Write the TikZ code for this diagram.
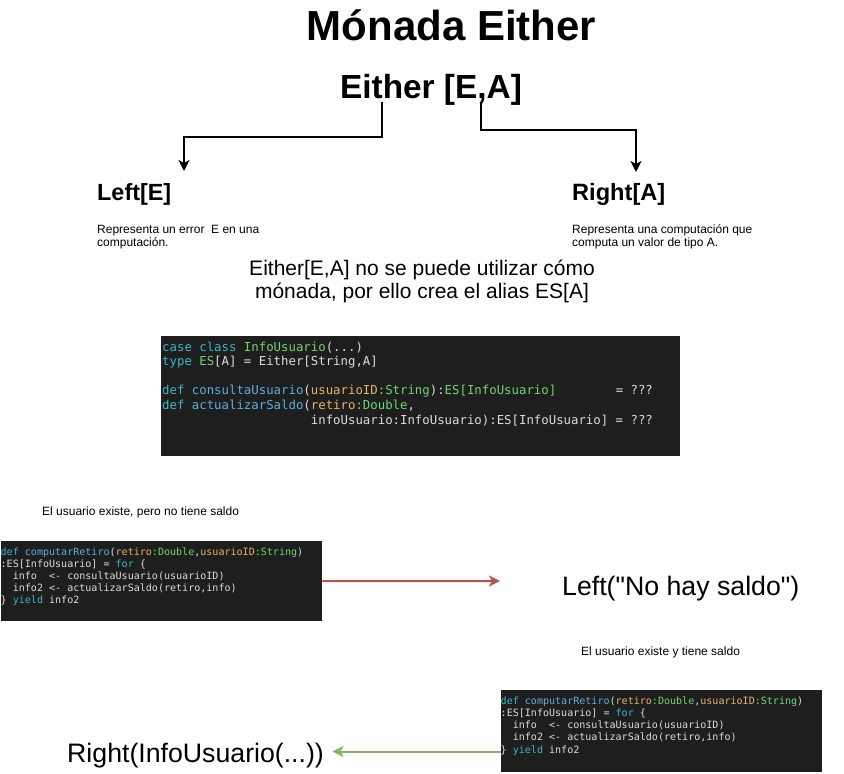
\documentclass[tikz,border=0pt]{standalone}
\usepackage{fontspec}
\setmainfont{Liberation Sans}
\setmonofont{DejaVu Sans Mono}
\newfontfamily\rawsans{Liberation Sans}[Ligatures=TeXOff]
\usetikzlibrary{arrows.meta}
\definecolor{cbg}{HTML}{1E1E1E}
\definecolor{ckwc}{HTML}{3AB8C6}
\definecolor{cfnc}{HTML}{5CAEE0}
\definecolor{cgrc}{HTML}{72D572}
\definecolor{cpac}{HTML}{E5B567}
\definecolor{cplc}{HTML}{DCDCDC}
\definecolor{redarrc}{HTML}{B85450}
\definecolor{greenarrc}{HTML}{82B366}
\newcommand\ckw[1]{\textcolor{ckwc}{#1}}
\newcommand\cfn[1]{\textcolor{cfnc}{#1}}
\newcommand\cgr[1]{\textcolor{cgrc}{#1}}
\newcommand\cpa[1]{\textcolor{cpac}{#1}}
\newcommand\cpl[1]{\textcolor{cplc}{#1}}
\newcommand\cind[1]{\hspace*{#1\fontcharwd\font`M}}
\begin{document}
\begin{tikzpicture}[x=1pt,y=-1pt,
  lbl/.style={inner sep=0pt, anchor=base west},
  lblc/.style={inner sep=0pt, anchor=base},
  arr/.style={draw=black, line width=2pt, -{Stealth[length=11pt,width=11pt,inset=3pt]}},
  redarr/.style={draw=redarrc, line width=2pt, -{Stealth[length=11pt,width=11pt,inset=3pt]}},
  greenarr/.style={draw=greenarrc, line width=2pt, -{Stealth[length=11pt,width=11pt,inset=3pt]}},
  codebox/.style={fill=cbg, draw=none, inner sep=0pt, anchor=north west},
  codeA/.style={inner sep=0pt, anchor=base west, text=cplc, font=\fontsize{12.35}{14.6}\selectfont\ttfamily},
  codeB/.style={inner sep=0pt, anchor=base west, text=cplc, font=\fontsize{10.05}{12.1}\selectfont\ttfamily},
  small/.style={inner sep=0pt, anchor=base west, font=\fontsize{12}{13}\selectfont}
]
\fill[white] (0,0) rectangle (844,774);
\useasboundingbox (0,0) rectangle (844,774);

% titles
\node[lblc, font=\fontsize{42}{48}\selectfont\bfseries] (title) at (451.5,40) {Mónada Either};
\node[lblc, font=\fontsize{33.4}{38}\selectfont\bfseries] (either) at (431,98) {Either [E,A]};

% Left / Right
\node[lbl, font=\fontsize{23.4}{28}\selectfont\bfseries] (left) at (97,200) {Left[E]};
\node[lbl, font=\fontsize{23.6}{28}\selectfont\bfseries] (right) at (572,200) {Right[A]};
\node[small] (leftdesc) at (97,233) {\parbox[t]{200pt}{\raggedright Representa un error\ \ E en una\\computación.}};
\node[small] (rightdesc) at (572,233) {\parbox[t]{220pt}{\raggedright Representa una computación que\\computa un valor de tipo A.}};

% connectors from Either
\coordinate (eL) at (382,102);
\coordinate (eR) at (481,102);
\coordinate (lt) at (184,171);
\coordinate (rt) at (636,172);
\draw[arr] (eL) -- ++(0,35) -| (lt);
\draw[arr] (eR) -- ++(0,28) -| (rt);

% middle text
\node[lblc, font=\fontsize{21}{23}\selectfont] (note) at (422,275) {\parbox[t]{420pt}{\centering Either[E,A] no se puede utilizar cómo\\mónada, por ello crea el alias ES[A]}};

% code block 1
\node[codebox, minimum width=519pt, minimum height=120pt] (cb1) at (161,336) {};
\node[codeA] (a1) at (162,351) {\ckw{case class} \cgr{InfoUsuario}(...)};
\node[codeA] (a2) at (162,365.5) {\ckw{type} \cgr{ES}[A] = Either[String,A]};
\node[codeA] (a4) at (162,394.5) {\ckw{def} \cfn{consultaUsuario}(\cpa{usuarioID}\cgr{:String}):\cgr{ES[InfoUsuario]}\cind{8}= ???};
\node[codeA] (a5) at (162,409) {\ckw{def} \cfn{actualizarSaldo}(\cpa{retiro}\cgr{:Double},};
\node[codeA] (a6) at (162,424) {\cind{20}infoUsuario:InfoUsuario):ES[InfoUsuario] = ???};

% case 1
\node[small] (case1) at (42,515) {El usuario existe, pero no tiene saldo};
\node[codebox, minimum width=321pt, minimum height=80pt] (cb2) at (1,541) {};
\node[codeB] (b1) at (0.5,555) {\ckw{def} \cfn{computarRetiro}(\cpa{retiro}\cgr{:Double},\cpa{usuarioID}\cgr{:String})};
\node[codeB] (b2) at (0.5,567.1) {:ES[InfoUsuario] = \ckw{for} \{};
\node[codeB] (b3) at (0.5,579.2) {\cind{2}info\cind{2}<- consultaUsuario(usuarioID)};
\node[codeB] (b4) at (0.5,591.3) {\cind{2}info2 <- actualizarSaldo(retiro,info)};
\node[codeB] (b5) at (0.5,603.4) {\} \ckw{yield} info2};
\node[lbl, font=\fontsize{26.7}{30}\selectfont\rawsans] (leftres) at (562,595) {Left("No hay saldo")};
\coordinate (redend) at (500,581);
\draw[redarr] (cb2.east) -- (redend);

% case 2
\node[small] (case2) at (581,655) {El usuario existe y tiene saldo};
\node[codebox, minimum width=321pt, minimum height=82pt] (cb3) at (501,690) {};
\node[codeB] (c1) at (500.5,704.6) {\ckw{def} \cfn{computarRetiro}(\cpa{retiro}\cgr{:Double},\cpa{usuarioID}\cgr{:String})};
\node[codeB] (c2) at (500.5,716.7) {:ES[InfoUsuario] = \ckw{for} \{};
\node[codeB] (c3) at (500.5,728.8) {\cind{2}info\cind{2}<- consultaUsuario(usuarioID)};
\node[codeB] (c4) at (500.5,740.9) {\cind{2}info2 <- actualizarSaldo(retiro,info)};
\node[codeB] (c5) at (500.5,753) {\} \ckw{yield} info2};
\node[lbl, font=\fontsize{26.7}{30}\selectfont] (rightres) at (67,762) {Right(InfoUsuario(...))};
\coordinate (greenstart) at (501,751.5);
\coordinate (greenend) at (332.5,751.5);
\draw[greenarr] (greenstart) -- (greenend);
\end{tikzpicture}
\end{document}
